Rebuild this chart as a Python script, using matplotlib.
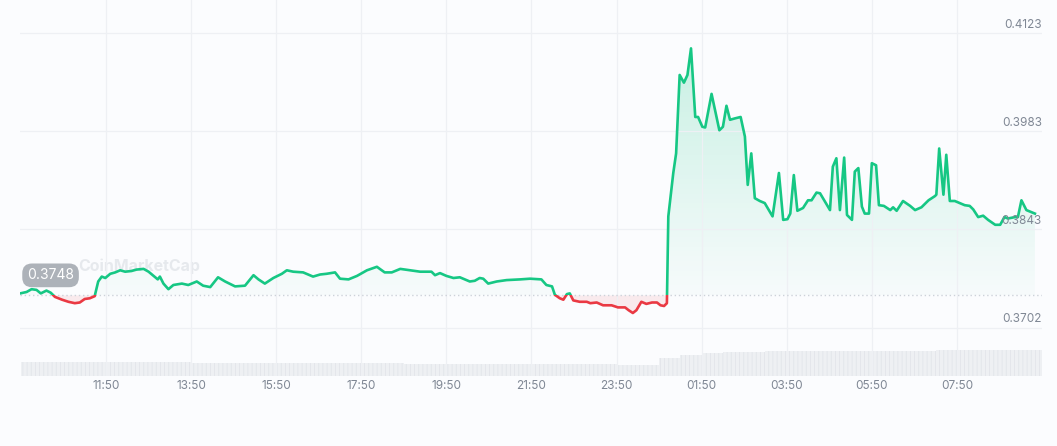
import numpy as np
import matplotlib
matplotlib.use("Agg")
import matplotlib.pyplot as plt
from matplotlib.colors import LinearSegmentedColormap
from matplotlib.patches import Rectangle
from matplotlib.path import Path

# --- data: minutes after 09:50 and price (USD) ---
minutes = [
    -1, 8, 15, 22, 28, 36, 42, 48, 58, 67, 76, 83, 90, 97, 104, 109, 114, 119, 126, 133,
    140, 147, 156, 163, 173, 180, 187, 193, 196, 201, 208, 215, 227, 236, 248, 257, 267, 278, 288, 302,
    316, 328, 335, 344, 356, 368, 375, 384, 398, 412, 422, 431, 443, 450, 462, 474, 488, 502, 513, 523,
    535, 549, 563, 579, 584, 591, 600, 610, 619, 633, 640, 647, 652, 659, 671, 685, 704, 718, 734, 741,
    749, 753, 760, 765, 770, 774, 779, 788, 798, 803, 812, 821, 833, 842, 852, 857, 863, 868, 875, 882,
    890, 897, 902, 907, 911, 913, 920, 924, 929, 935, 940, 945, 951, 955, 961, 965, 974, 985, 990, 995,
    1000, 1007, 1015, 1021, 1025, 1030, 1035, 1042, 1049, 1060, 1069, 1075, 1081, 1085, 1090, 1095, 1103, 1110, 1115, 1122,
    1127, 1141, 1145, 1150, 1155, 1161, 1165, 1172, 1176, 1181, 1186, 1190, 1196, 1200, 1206, 1210, 1217, 1226, 1230, 1235,
    1244, 1254, 1261, 1270, 1280, 1289, 1291, 1295, 1301, 1305, 1310, 1317, 1324, 1331, 1338, 1343, 1350, 1357, 1364, 1374,
    1381, 1387, 1392, 1402, 1406, 1411, 1418, 1430,
]
price = [
    0.3751, 0.3753, 0.3757, 0.3756, 0.3751, 0.3755, 0.3752, 0.3746, 0.3742, 0.3739,
    0.3737, 0.3738, 0.3743, 0.3744, 0.3747, 0.3768, 0.3775, 0.3773, 0.3779, 0.3781,
    0.3784, 0.3782, 0.3783, 0.3785, 0.3786, 0.3782, 0.3776, 0.3771, 0.3775, 0.3765,
    0.3757, 0.3763, 0.3765, 0.3763, 0.3768, 0.3762, 0.3760, 0.3774, 0.3768, 0.3761,
    0.3762, 0.3777, 0.3771, 0.3765, 0.3773, 0.3779, 0.3784, 0.3782, 0.3781, 0.3775,
    0.3778, 0.3779, 0.3781, 0.3772, 0.3771, 0.3776, 0.3784, 0.3789, 0.3781, 0.3781,
    0.3786, 0.3784, 0.3782, 0.3782, 0.3777, 0.3780, 0.3776, 0.3773, 0.3774, 0.3768,
    0.3769, 0.3773, 0.3772, 0.3765, 0.3768, 0.3770, 0.3771, 0.3772, 0.3771, 0.3763,
    0.3761, 0.3749, 0.3744, 0.3742, 0.3750, 0.3751, 0.3741, 0.3739, 0.3739, 0.3737,
    0.3738, 0.3734, 0.3734, 0.3731, 0.3731, 0.3727, 0.3723, 0.3727, 0.3739, 0.3736,
    0.3738, 0.3738, 0.3734, 0.3733, 0.3737, 0.3861, 0.3923, 0.3951, 0.4063, 0.4052,
    0.4063, 0.4101, 0.4003, 0.4003, 0.3989, 0.3988, 0.4036, 0.3984, 0.3989, 0.4019,
    0.3999, 0.4001, 0.4003, 0.3975, 0.3906, 0.3951, 0.3887, 0.3883, 0.3880, 0.3861,
    0.3923, 0.3856, 0.3857, 0.3865, 0.3920, 0.3869, 0.3873, 0.3884, 0.3884, 0.3895,
    0.3894, 0.3870, 0.3932, 0.3944, 0.3870, 0.3945, 0.3863, 0.3856, 0.3925, 0.3930,
    0.3875, 0.3865, 0.3865, 0.3937, 0.3934, 0.3877, 0.3876, 0.3870, 0.3874, 0.3869,
    0.3883, 0.3876, 0.3870, 0.3874, 0.3884, 0.3890, 0.3892, 0.3958, 0.3892, 0.3949,
    0.3883, 0.3883, 0.3880, 0.3877, 0.3876, 0.3871, 0.3860, 0.3862, 0.3856, 0.3849,
    0.3849, 0.3860, 0.3858, 0.3860, 0.3860, 0.3884, 0.3870, 0.3865,
]

# volume (millions USD), one bar per 30 minutes
vol_minutes = list(range(15, 1440, 30))
volume = [
    140, 141, 142, 141, 140, 139, 138, 136, 135, 134, 133, 132, 131, 130, 129, 128,
    127, 126, 125, 124, 123, 122, 121, 120, 119, 118, 117, 116, 115, 114, 180, 215,
    232, 240, 245, 248, 250, 251, 252, 253, 254, 254, 255, 256, 257, 258, 259, 260,
]

tick_minutes = [120, 240, 360, 480, 600, 720, 840, 960, 1080, 1200, 1320]
tick_labels = ["11:50", "13:50", "15:50", "17:50", "19:50", "21:50",
               "23:50", "01:50", "03:50", "05:50", "07:50"]
y_ticks = [0.4123, 0.3983, 0.3843, 0.3702]
ref_price = 0.3748

GREEN = "#16c784"
RED = "#ea3943"
BG = "#fbfcfe"
LABEL = "#7f8794"

plt.rcParams["font.family"] = ["Inter", "DejaVu Sans"]
plt.rcParams["hatch.linewidth"] = 0.6
plt.rcParams["hatch.color"] = "#e2e5ea"

t = np.array(minutes, dtype=float)
p = np.array(price)
xlo, xhi = -1.3, 1440
ylo, yhi = 0.3633, 0.41701

fig = plt.figure(figsize=(10.57, 4.46), dpi=100, facecolor=BG)

# volume strip behind the price chart
ax_vol = fig.add_axes([20 / 1057, 70 / 446, 1022 / 1057, 36 / 446])
ax_vol.bar(vol_minutes, volume, width=30, color="#eef0f3", linewidth=0, hatch="||||")
ax_vol.set_xlim(xlo, xhi)
ax_vol.set_ylim(0, 360)
ax_vol.axis("off")

ax = fig.add_axes([20 / 1057, 70 / 446, 1022 / 1057, 376 / 446])
ax.set_facecolor("none")

# green gradient above the reference price
up = ax.fill_between(t, p, ref_price, where=p >= ref_price, interpolate=True,
                     facecolor="none", edgecolor="none")
clip = Path.make_compound_path(*up.get_paths())
fade = LinearSegmentedColormap.from_list(
    "fade", [(0.086, 0.78, 0.518, 0.02), (0.086, 0.78, 0.518, 0.26)])
grad = np.linspace(0, 1, 256).reshape(-1, 1)
img = ax.imshow(grad, extent=[xlo, xhi, ref_price, yhi], origin="lower",
                aspect="auto", cmap=fade, zorder=1)
img.set_clip_path(clip, ax.transData)

# red fill below the reference price
ax.fill_between(t, p, ref_price, where=p < ref_price, interpolate=True,
                color=RED, alpha=0.09, linewidth=0, zorder=1)

# price line, green above / red below the reference
for color, y0, y1 in [(GREEN, ref_price, yhi), (RED, ylo, ref_price)]:
    ln, = ax.plot(t, p, color=color, lw=1.9, solid_joinstyle="round", zorder=3)
    ln.set_clip_path(Rectangle((xlo, y0), xhi - xlo, y1 - y0, transform=ax.transData))

ax.axhline(ref_price, color="#cdd2d9", ls=(0, (1, 2)), lw=1, zorder=2)

ax.set_xlim(xlo, xhi)
ax.set_ylim(ylo, yhi)
ax.set_xticks(tick_minutes, tick_labels)
ax.set_yticks(y_ticks)
ax.grid(color="#eef0f4", lw=0.9, zorder=0)
ax.tick_params(axis="x", length=0, pad=3, labelsize=8.5, labelcolor=LABEL)
ax.tick_params(axis="y", left=False, labelleft=False)
for s in ax.spines.values():
    s.set_visible(False)

for v in y_ticks:
    ax.annotate(f"{v:.4f}", xy=(1, v), xycoords=("axes fraction", "data"),
                xytext=(0, 6), textcoords="offset points", ha="right", va="center",
                fontsize=8.5, color=LABEL, zorder=5)

# watermark and reference price tag
ax.text(78 / 1057, 1 - 266 / 446, "CoinMarketCap", transform=fig.transFigure,
        fontsize=11.5, fontweight="bold", color="#e6e9ed", ha="left", va="center", zorder=0.5)
ax.annotate(f"{ref_price:.4f}", xy=(0, ref_price), xycoords=("axes fraction", "data"),
            xytext=(22, 14.5), textcoords="offset points", ha="center", va="center",
            fontsize=10, color="white", zorder=6,
            bbox=dict(boxstyle="round,pad=0.35,rounding_size=0.7", fc="#adb2b9", ec="none"))

fig.savefig("out.png", dpi=100, facecolor=BG)
